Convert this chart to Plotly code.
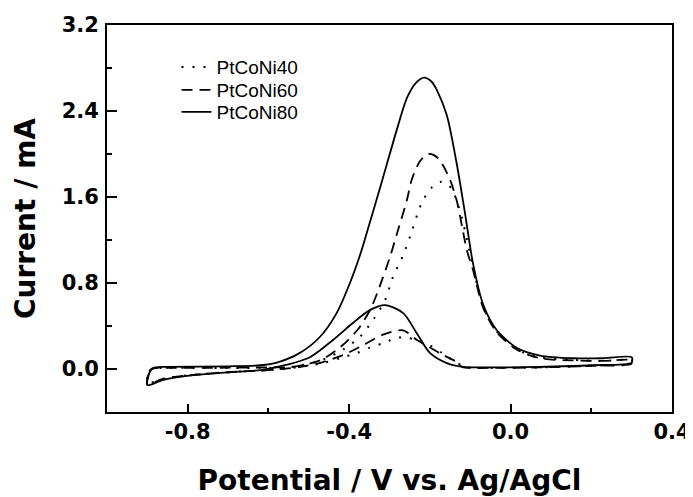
import plotly.graph_objects as go

# PtCoNi80 (solid) - forward scan then backward scan
x80 = [-0.900, -0.897, -0.890, -0.880, -0.850, -0.700, -0.620, -0.579, -0.522, -0.472, -0.431, -0.398, -0.373, -0.352, -0.323, -0.280, -0.257, -0.235, -0.214, -0.195, -0.182, -0.158, -0.133, -0.113, -0.093, -0.068, -0.034, 0.016, 0.073, 0.155, 0.230, 0.300,
       0.300, 0.200, 0.070, -0.050, -0.118, -0.158, -0.200, -0.232, -0.266, -0.311, -0.348, -0.390, -0.440, -0.497, -0.554, -0.620, -0.700, -0.780, -0.860, -0.900]
y80 = [-0.15, -0.06, 0.00, 0.015, 0.02, 0.025, 0.035, 0.06, 0.15, 0.30, 0.52, 0.80, 1.06, 1.32, 1.69, 2.25, 2.52, 2.66, 2.71, 2.67, 2.59, 2.36, 1.90, 1.45, 0.98, 0.60, 0.36, 0.195, 0.125, 0.10, 0.10, 0.11,
       0.06, 0.035, 0.02, 0.015, 0.02, 0.055, 0.15, 0.33, 0.52, 0.595, 0.55, 0.43, 0.27, 0.11, 0.04, -0.01, -0.03, -0.055, -0.10, -0.15]

# PtCoNi60 (dashed)
x60 = [-0.900, -0.895, -0.885, -0.850, -0.700, -0.600, -0.540, -0.472, -0.423, -0.380, -0.348, -0.328, -0.299, -0.279, -0.257, -0.245, -0.225, -0.205, -0.190, -0.175, -0.150, -0.133, -0.120, -0.108, -0.093, -0.068, -0.034, 0.016, 0.073, 0.155, 0.230, 0.300,
       0.300, 0.200, 0.070, -0.050, -0.120, -0.133, -0.167, -0.200, -0.232, -0.266, -0.316, -0.366, -0.415, -0.465, -0.520, -0.600, -0.700, -0.800, -0.860, -0.900]
y60 = [-0.14, -0.03, 0.005, 0.01, 0.012, 0.015, 0.02, 0.08, 0.20, 0.36, 0.55, 0.73, 1.04, 1.29, 1.57, 1.76, 1.93, 2.00, 1.99, 1.94, 1.76, 1.56, 1.32, 1.10, 0.92, 0.57, 0.34, 0.18, 0.10, 0.08, 0.075, 0.08,
       0.05, 0.03, 0.015, 0.01, 0.02, 0.065, 0.13, 0.20, 0.27, 0.36, 0.32, 0.22, 0.13, 0.065, 0.02, -0.01, -0.03, -0.06, -0.09, -0.14]

# PtCoNi40 (dotted)
x40 = [-0.900, -0.895, -0.885, -0.850, -0.700, -0.600, -0.540, -0.470, -0.415, -0.373, -0.340, -0.311, -0.291, -0.266, -0.244, -0.230, -0.217, -0.195, -0.175, -0.160, -0.145, -0.133, -0.120, -0.108, -0.093, -0.068, -0.034, 0.016, 0.073, 0.155, 0.230, 0.300,
       0.300, 0.200, 0.070, -0.050, -0.110, -0.143, -0.170, -0.200, -0.230, -0.257, -0.281, -0.316, -0.348, -0.380, -0.423, -0.465, -0.540, -0.600, -0.700, -0.800, -0.860, -0.900]
y40 = [-0.13, -0.02, 0.005, 0.01, 0.01, 0.012, 0.02, 0.08, 0.18, 0.30, 0.46, 0.64, 0.86, 1.06, 1.29, 1.45, 1.57, 1.69, 1.74, 1.73, 1.67, 1.56, 1.40, 1.20, 0.95, 0.58, 0.35, 0.18, 0.11, 0.085, 0.075, 0.08,
       0.05, 0.03, 0.015, 0.01, 0.02, 0.08, 0.15, 0.22, 0.27, 0.29, 0.29, 0.24, 0.20, 0.15, 0.10, 0.055, 0.01, -0.01, -0.03, -0.06, -0.09, -0.13]

xticks = [-0.8, -0.4, 0.0, 0.4]
xticklabels = ['-0.8', '-0.4', '0.0', '0.4']
yticks = [0.0, 0.8, 1.6, 2.4, 3.2]
yticklabels = ['0.0', '0.8', '1.6', '2.4', '3.2']

fig = go.Figure()
fig.add_trace(go.Scatter(x=x40, y=y40, mode='lines', name='PtCoNi40', legend='legend',
                         line=dict(color='black', width=2, dash='2px,9px', shape='spline', smoothing=0.8)))
fig.add_trace(go.Scatter(x=x60, y=y60, mode='lines', name='PtCoNi60', legend='legend2',
                         line=dict(color='black', width=1.8, dash='11px,7px', shape='spline', smoothing=0.8)))
fig.add_trace(go.Scatter(x=x80, y=y80, mode='lines', name='PtCoNi80', legend='legend3',
                         line=dict(color='black', width=1.8, shape='spline', smoothing=0.8)))

tickfont = dict(family='DejaVu Sans', size=21, color='black', weight='bold')
titlefont = dict(family='DejaVu Sans', size=28, color='black', weight='bold')
legfont = dict(family='Arial', size=19, color='black')

def leg(y):
    return dict(x=0.123, y=y, xanchor='left', yanchor='middle', bgcolor='rgba(0,0,0,0)', font=legfont)

# page body adds 8px, so the figure is 8px smaller than the window
fig.update_layout(
    width=685, height=489,
    margin=dict(l=99, r=21, t=17, b=85),
    plot_bgcolor='white', paper_bgcolor='white',
    showlegend=True,
    legend=leg(0.891), legend2=leg(0.832), legend3=leg(0.775),
    xaxis=dict(range=[-1.0, 0.4], tickvals=xticks, ticktext=xticklabels, ticks='inside', ticklen=8,
               tickwidth=1.5, tickcolor='black', showgrid=False, zeroline=False, showline=True,
               linecolor='black', linewidth=1.8, mirror=True, tickfont=tickfont, automargin=False,
               ticklabelstandoff=0,
               minor=dict(tickvals=[-0.6, -0.2, 0.2], ticks='inside', ticklen=4, tickwidth=1.5, tickcolor='black'),
               title=dict(text='Potential / V vs. Ag/AgCl', font=titlefont, standoff=27)),
    yaxis=dict(range=[-0.4, 3.2], tickvals=yticks, ticktext=yticklabels, ticks='inside', ticklen=10,
               tickwidth=1.5, tickcolor='black', showgrid=False, zeroline=False, showline=True,
               linecolor='black', linewidth=1.8, mirror=True, tickfont=tickfont, automargin=False,
               ticklabelstandoff=2,
               minor=dict(tickvals=[0.4, 1.2, 2.0, 2.8], ticks='inside', ticklen=5, tickwidth=1.5, tickcolor='black'),
               title=dict(text='Current / mA', font=titlefont, standoff=18)),
)

fig.write_html("out.html")
